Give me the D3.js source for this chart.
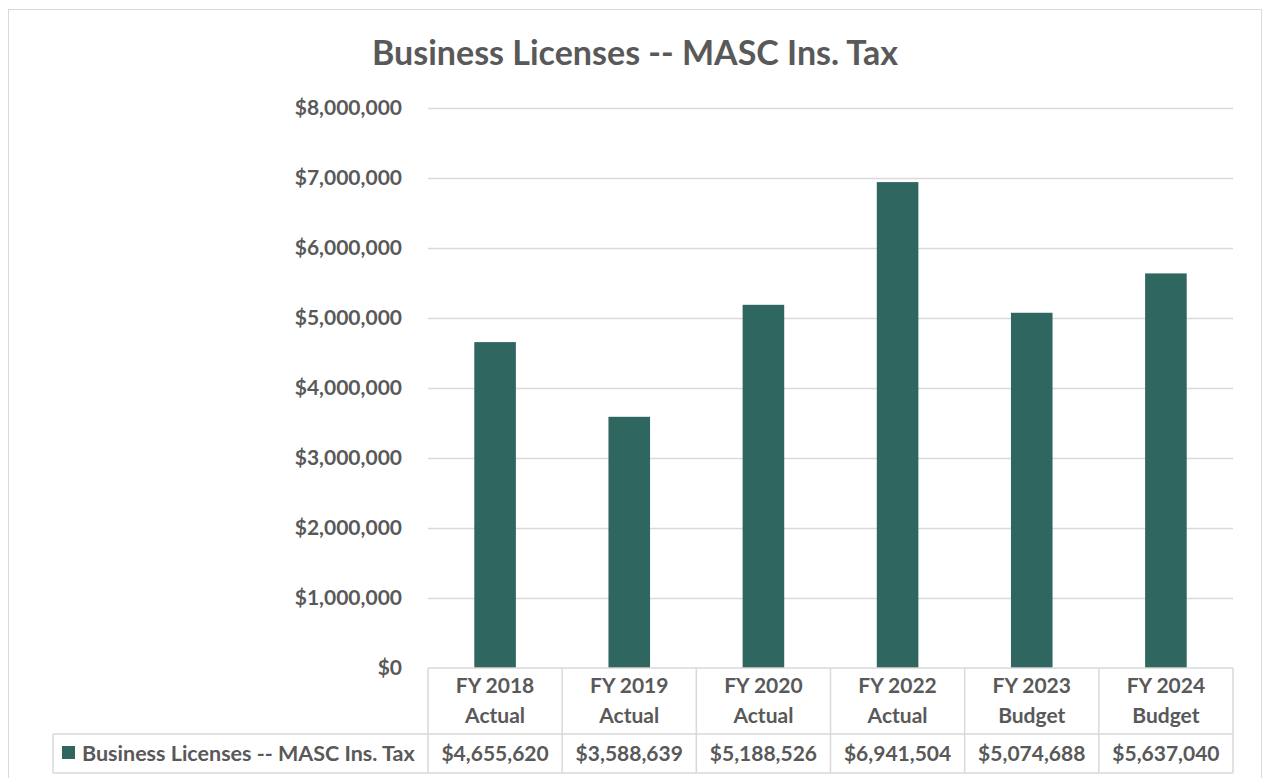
<!DOCTYPE html>
<html>
<head>
<meta charset="utf-8">
<script src="https://cdn.jsdelivr.net/npm/d3@7"></script>
<style>
  body { margin: 0; background: #fff; }
  text { font-family: Lato, "Open Sans", sans-serif; font-weight: bold; fill: #595959; }
</style>
</head>
<body>
<svg id="chart"></svg>
<script>
const categories = [["FY 2018", "Actual"], ["FY 2019", "Actual"], ["FY 2020", "Actual"],
                    ["FY 2022", "Actual"], ["FY 2023", "Budget"], ["FY 2024", "Budget"]];
const seriesName = "Business Licenses -- MASC Ins. Tax";
const values = [4655620, 3588639, 5188526, 6941504, 5074688, 5637040];
const yTicks = [0, 1000000, 2000000, 3000000, 4000000, 5000000, 6000000, 7000000, 8000000];

const W = 1263, H = 778;
const margin = {top: 108, right: 30, bottom: 110, left: 428};
const width = 1233 - margin.left;
const height = 668 - margin.top;
const barColor = "#306660";
const gridColor = "#d9d9d9";

const svg = d3.select("#chart").attr("width", W).attr("height", H);

// outer chart border
svg.append("rect").attr("x", 8.5).attr("y", 9.5).attr("width", 1253).attr("height", 775)
    .attr("fill", "none").attr("stroke", gridColor);

svg.append("text").attr("x", 635).attr("y", 65).attr("text-anchor", "middle")
    .style("font-size", "34px").text("Business Licenses -- MASC Ins. Tax");

const chart = svg.append("g").attr("transform", `translate(${margin.left},${margin.top})`);

const x = d3.scaleBand().domain(d3.range(categories.length)).range([0, width]).paddingInner(0).paddingOuter(0);
const y = d3.scaleLinear().domain([0, 8000000]).range([height, 0]);

// gridlines
chart.append("g").selectAll("line").data(yTicks.slice(1)).join("line")
    .attr("x1", 0).attr("x2", width)
    .attr("y1", d => Math.round(y(d)) + 0.5).attr("y2", d => Math.round(y(d)) + 0.5)
    .attr("stroke", gridColor).attr("stroke-width", 1.5);

// y axis labels
const yAxis = chart.append("g").call(d3.axisLeft(y).tickValues(yTicks).tickSize(0).tickPadding(26)
    .tickFormat(d => "$" + d3.format(",")(d)));
yAxis.select(".domain").remove();
yAxis.selectAll("text").style("font-size", "21px").attr("font-family", null).attr("fill", null);

// bars
const bw = x.bandwidth() * 0.31;
chart.selectAll("rect.bar").data(values).join("rect").attr("class", "bar")
    .attr("x", (d, i) => x(i) + x.bandwidth() / 2 - bw / 2)
    .attr("width", bw)
    .attr("y", d => y(d))
    .attr("height", d => y(0) - y(d))
    .attr("fill", barColor);

// data table
const tbl = svg.append("g");
const rowTop = 668, rowMid = 734, rowBot = 773, legLeft = 53;
const lineColor = "#d9d9d9";
const hline = (x1, x2, yy) => tbl.append("line").attr("x1", x1).attr("x2", x2).attr("y1", yy).attr("y2", yy)
    .attr("stroke", lineColor).attr("stroke-width", 1.5);
hline(margin.left, margin.left + width, rowTop);
hline(legLeft, margin.left + width, rowMid);
hline(legLeft, margin.left + width, rowBot);
tbl.append("line").attr("x1", legLeft).attr("x2", legLeft).attr("y1", rowMid).attr("y2", rowBot)
    .attr("stroke", lineColor).attr("stroke-width", 1.5);
for (let i = 0; i <= categories.length; i++) {
  const xx = margin.left + (i < categories.length ? x(i) : width);
  tbl.append("line").attr("x1", xx).attr("x2", xx).attr("y1", rowTop).attr("y2", rowBot)
      .attr("stroke", lineColor).attr("stroke-width", 1.5);
}

categories.forEach((c, i) => {
  const cx = margin.left + x(i) + x.bandwidth() / 2;
  tbl.append("text").attr("x", cx).attr("y", 693).attr("text-anchor", "middle").style("font-size", "21px").text(c[0]);
  tbl.append("text").attr("x", cx).attr("y", 723).attr("text-anchor", "middle").style("font-size", "21px").text(c[1]);
  tbl.append("text").attr("x", cx).attr("y", 761).attr("text-anchor", "middle").style("font-size", "21px")
      .text("$" + d3.format(",")(values[i]));
});

tbl.append("rect").attr("x", 62).attr("y", 746).attr("width", 13).attr("height", 13).attr("fill", barColor);
tbl.append("text").attr("x", 82).attr("y", 761).style("font-size", "21.5px").text(seriesName);
</script>
</body>
</html>
